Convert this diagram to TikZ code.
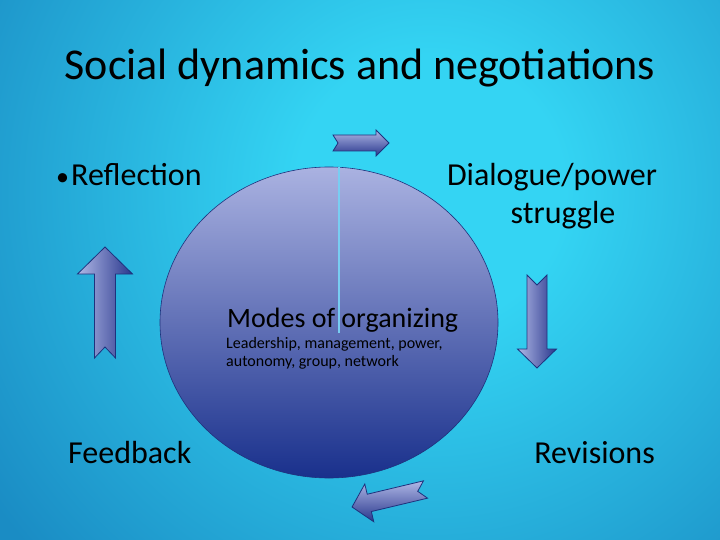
\documentclass[tikz,border=0pt]{standalone}
\usepackage{fontspec}
\setmainfont{Carlito}
\usetikzlibrary{calc}

\definecolor{bginner}{RGB}{52,212,243}
\definecolor{bgouter}{RGB}{26,140,196}
\definecolor{lavender}{RGB}{176,184,230}
\definecolor{navy}{RGB}{40,54,140}
\definecolor{edgeblue}{RGB}{30,50,125}
\definecolor{elltop}{RGB}{170,178,225}
\definecolor{ellmid}{RGB}{122,132,196}
\definecolor{ellbot}{RGB}{25,48,140}
\definecolor{divider}{RGB}{120,205,242}

\pgfdeclareradialshading{slidebg}{\pgfpoint{0bp}{0bp}}{color(0bp)=(bginner); color(6bp)=(bginner); color(24bp)=(bgouter); color(50bp)=(bgouter)}

\begin{document}
\begin{tikzpicture}[x=1pt, y=-1pt,
  titletext/.style={inner sep=0pt, font=\fontsize{44}{53}\selectfont},
  bodytext/.style={inner sep=0pt, font=\fontsize{32}{38}\selectfont},
  modetext/.style={inner sep=0pt, font=\fontsize{28}{34}\selectfont},
  smalltext/.style={inner sep=0pt, align=left, font=\fontsize{16}{18}\selectfont},
  arrowline/.style={draw=edgeblue, line width=0.8pt, line join=miter},
  pics/blockarrow/.style n args={6}{code={
    \draw[arrowline, #6] (0,-#2) -- ({#1-#4},-#2) -- ({#1-#4},-#3) -- (#1,0)
      -- ({#1-#4},#3) -- ({#1-#4},#2) -- (0,#2) -- (#5,0) -- cycle;
  }}]
  \useasboundingbox (0,0) rectangle (720,540);
  % background
  \begin{scope}
    \clip (0,0) rectangle (720,540);
    \shade[shading=slidebg] (430,190) circle (560);
  \end{scope}
  % centre disc
  \coordinate (C) at (329,322.5);
  \shade[top color=elltop, middle color=ellmid, bottom color=ellbot, draw=edgeblue, line width=0.6pt]
    (C) ellipse (169 and 155.5);
  \coordinate (T) at (339,167.5);
  \coordinate (M) at (339,333);
  \draw[divider, line width=1.1pt] (T) -- (M);
  % arrows round the disc
  \pic at (333,143) {blockarrow={56}{8}{13}{13}{5}{top color=lavender, bottom color=navy}};
  \pic[rotate=-90] at (537,275) {blockarrow={93}{10}{19.5}{19}{10}{left color=lavender, right color=navy}};
  \pic[rotate=193.4] at (425.5,489.5) {blockarrow={75.5}{8.9}{19.4}{17.7}{8}{top color=lavender, bottom color=navy}};
  \pic[rotate=90] at (105,358) {blockarrow={111}{10.5}{27.5}{27}{11}{left color=lavender, right color=navy}};
  % texts
  \node[titletext, anchor=base] (title) at (360,80) {Social dynamics and negotiations};
  \node[bodytext, anchor=base west] (reflection) at (56,186)
    {\makebox[15pt][l]{\fontsize{26}{30}\selectfont•}Reflection};
  \node[bodytext, anchor=base] (dialogue) at (552,186) {Dialogue/power};
  \node[bodytext, anchor=base] (struggle) at (563,224) {struggle};
  \node[modetext, anchor=base west] (modes) at (227,327) {Modes of organizing};
  \node[smalltext, anchor=base west] (kinds) at (226,366) {Leadership, management, power,\\autonomy, group, network};
  \node[bodytext, anchor=base west] (feedback) at (68,463) {Feedback};
  \node[bodytext, anchor=base east] (revisions) at (655,463) {Revisions};
\end{tikzpicture}
\end{document}
